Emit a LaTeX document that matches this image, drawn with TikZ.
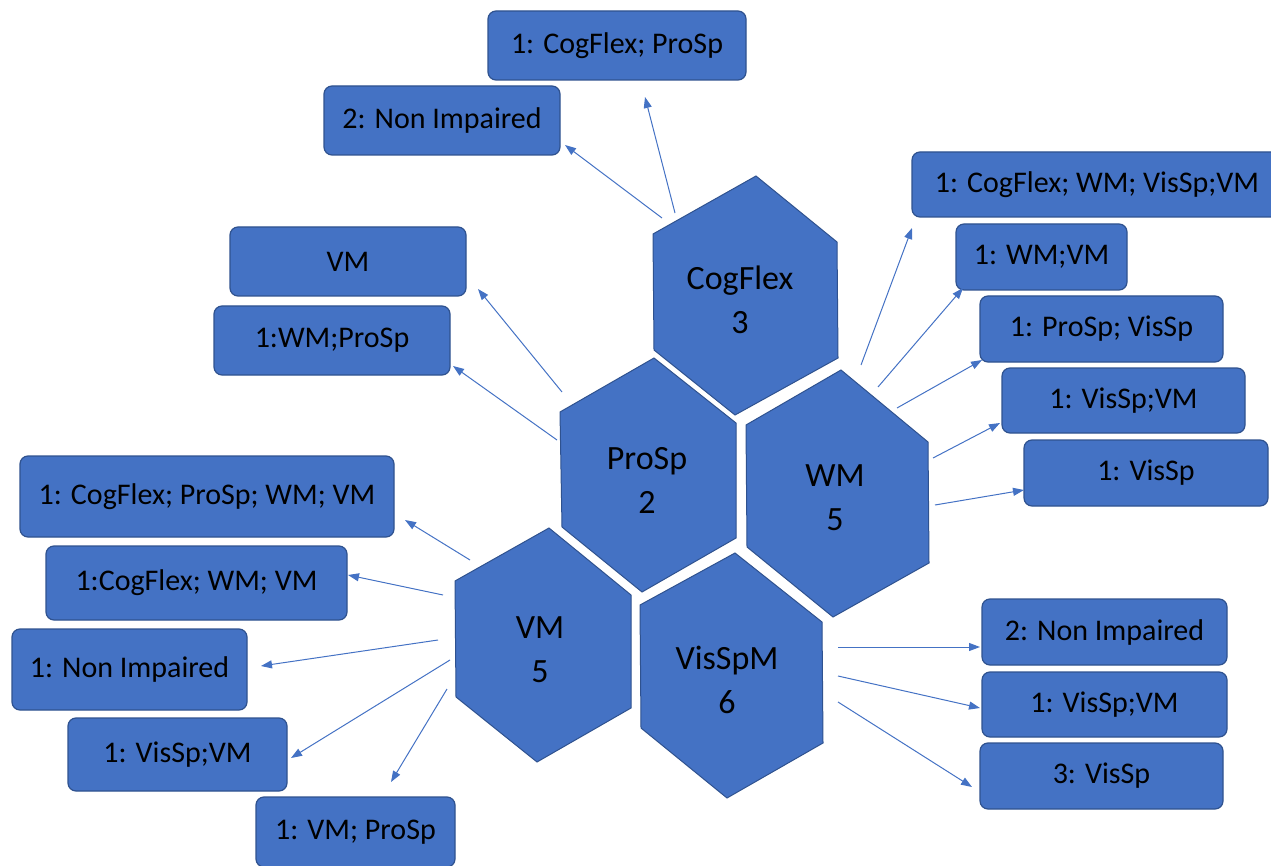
\documentclass[tikz,border=0pt]{standalone}
\usepackage{fontspec}
\setmainfont{Carlito}
\usetikzlibrary{arrows.meta}
\definecolor{hexblue}{HTML}{4472C4}
\definecolor{edgeblue}{HTML}{2F528F}
\begin{document}
\begin{tikzpicture}[x=1pt,y=-1pt,
  box/.style={draw=edgeblue, fill=hexblue, line width=1.2pt, rounded corners=8pt, inner sep=0pt, font=\fontsize{30}{36}\selectfont, text=black},
  hexa/.style={draw=edgeblue, fill=hexblue, line width=1pt},
  hexlabel/.style={font=\fontsize{34}{44}\selectfont, align=center, text=black},
  arr/.style={draw=hexblue, line width=1pt, -{Triangle[length=11pt,width=8pt]}}]
\clip (0,0) rectangle (1271,866);

% hexagons
\draw[hexa] (756,176) -- (837,242) -- (838,358) -- (735,415) -- (654,350) -- (653,234) -- cycle;
\draw[hexa] (654,358) -- (736,423) -- (736,538) -- (642,592) -- (562,527) -- (560,412) -- cycle;
\draw[hexa] (841,370) -- (928,442) -- (929,563) -- (833,617) -- (747,547) -- (746,425) -- cycle;
\draw[hexa] (549,528) -- (631,595) -- (631,708) -- (537,762) -- (456,697) -- (455,581) -- cycle;
\draw[hexa] (735,553) -- (822,622) -- (823,743) -- (727,798) -- (641,728) -- (640,605) -- cycle;

\node[hexlabel] (hcog) at (740,300) {CogFlex\\3};
\node[hexlabel] (hpro) at (647,480) {ProSp\\2};
\node[hexlabel] (hwm)  at (835,498) {WM\\5};
\node[hexlabel] (hvm)  at (540,650) {VM\\5};
\node[hexlabel] (hvis) at (727,680) {VisSpM\\6};

% boxes
\node[box, minimum width=258, minimum height=69] (b1) at (617,45.5) {1: CogFlex; ProSp};
\node[box, minimum width=236, minimum height=69] (b2) at (442,120.5) {2: Non Impaired};
\node[box, minimum width=236, minimum height=69] (b3) at (348,261.5) {VM};
\node[box, minimum width=236, minimum height=69] (b4) at (332,340.5) {1:WM;ProSp};
\node[box, minimum width=370, minimum height=65] (b5) at (1097,184.5) {1: CogFlex; WM; VisSp;VM};
\node[box, minimum width=171, minimum height=66] (b6) at (1041.5,257) {1: WM;VM};
\node[box, minimum width=243, minimum height=66] (b7) at (1101.5,329) {1: ProSp; VisSp};
\node[box, minimum width=243, minimum height=65] (b8) at (1123.5,400.5) {1: VisSp;VM};
\node[box, minimum width=244, minimum height=66] (b9) at (1146,473) {1: VisSp};
\node[box, minimum width=245, minimum height=66] (b10) at (1104.5,632) {2: Non Impaired};
\node[box, minimum width=245, minimum height=65] (b11) at (1104.5,704.5) {1: VisSp;VM};
\node[box, minimum width=243, minimum height=66] (b12) at (1101.5,776) {3: VisSp};
\node[box, minimum width=374, minimum height=81] (b13) at (207,496.5) {1: CogFlex; ProSp; WM; VM};
\node[box, minimum width=301, minimum height=74] (b14) at (196.5,583) {1:CogFlex; WM; VM};
\node[box, minimum width=235, minimum height=81] (b15) at (129.5,669.5) {1: Non Impaired};
\node[box, minimum width=219, minimum height=73] (b16) at (177.5,754.5) {1: VisSp;VM};
\node[box, minimum width=199, minimum height=70] (b17) at (355.5,832) {1: VM; ProSp};

% arrow end points
\coordinate (s1) at (675,213);  \coordinate (e1) at (645,97);
\coordinate (s2) at (662,218);  \coordinate (e2) at (565,145);
\coordinate (s3) at (562,392);  \coordinate (e3) at (478,289);
\coordinate (s4) at (557,440);  \coordinate (e4) at (453,366);
\coordinate (s5) at (861,365);  \coordinate (e5) at (912,228);
\coordinate (s6) at (878,387);  \coordinate (e6) at (963,288);
\coordinate (s7) at (897,408);  \coordinate (e7) at (982,360);
\coordinate (s8) at (933,458);  \coordinate (e8) at (1000,423);
\coordinate (s9) at (935,505);  \coordinate (e9) at (1024,490);
\coordinate (s10) at (838,647); \coordinate (e10) at (980,647);
\coordinate (s11) at (838,676); \coordinate (e11) at (980,708);
\coordinate (s12) at (838,702); \coordinate (e12) at (972,787);
\coordinate (s13) at (470,560); \coordinate (e13) at (405,520);
\coordinate (s14) at (443,595); \coordinate (e14) at (348,575);
\coordinate (s15) at (438,640); \coordinate (e15) at (261,666);
\coordinate (s16) at (450,660); \coordinate (e16) at (291,758);
\coordinate (s17) at (447,689); \coordinate (e17) at (391,782);

\foreach \i in {1,...,17} {\draw[arr] (s\i) -- (e\i);}
\end{tikzpicture}
\end{document}
